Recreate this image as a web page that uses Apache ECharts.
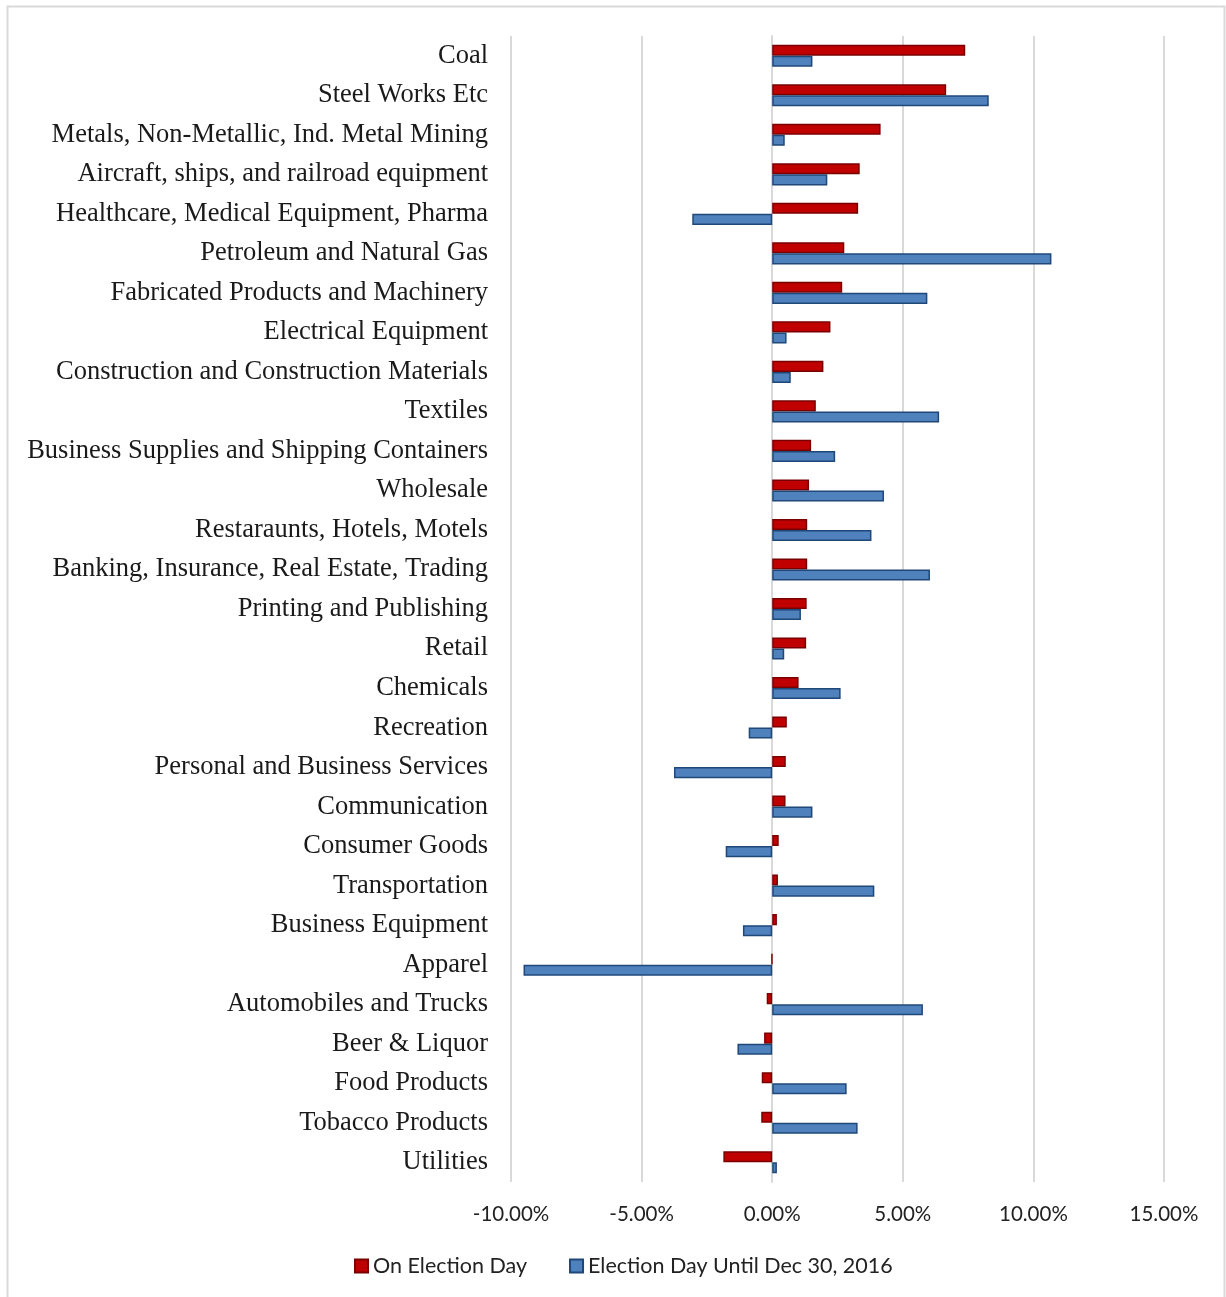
<!DOCTYPE html>
<html>
<head>
<meta charset="utf-8">
<script src="https://cdn.jsdelivr.net/npm/echarts@6/dist/echarts.min.js"></script>
<style>
html,body{margin:0;padding:0;background:#fff;}
#chart{width:1226px;height:1297px;}
</style>
</head>
<body>
<div id="chart"></div>
<script>
const categories = [
  "Coal","Steel Works Etc","Metals, Non-Metallic, Ind. Metal Mining","Aircraft, ships, and railroad equipment",
  "Healthcare, Medical Equipment, Pharma","Petroleum and Natural Gas","Fabricated Products and Machinery",
  "Electrical Equipment","Construction and Construction Materials","Textiles","Business Supplies and Shipping Containers",
  "Wholesale","Restaraunts, Hotels, Motels","Banking, Insurance, Real Estate, Trading","Printing and Publishing",
  "Retail","Chemicals","Recreation","Personal and Business Services","Communication","Consumer Goods",
  "Transportation","Business Equipment","Apparel","Automobiles and Trucks","Beer & Liquor","Food Products",
  "Tobacco Products","Utilities"
];
const onElectionDay = [
  7.39, 6.66, 4.15, 3.35, 3.29, 2.76, 2.68, 2.23, 1.96, 1.67, 1.49, 1.41, 1.34, 1.34, 1.32,
  1.30, 1.01, 0.56, 0.52, 0.51, 0.25, 0.22, 0.18, -0.02, -0.21, -0.31, -0.40, -0.42, -1.87
];
const untilDec30 = [
  1.54, 8.29, 0.48, 2.11, -3.06, 10.69, 5.94, 0.55, 0.71, 6.39, 2.41, 4.28, 3.80, 6.04, 1.10,
  0.46, 2.62, -0.90, -3.76, 1.54, -1.78, 3.91, -1.12, -9.52, 5.77, -1.33, 2.85, 3.27, 0.18
];
const seriesNames = ["On Election Day", "Election Day Until Dec 30, 2016"];
const xTicks = { min: -10, max: 15, interval: 5 };

const chart = echarts.init(document.getElementById('chart'), null, {renderer: 'canvas'});
chart.setOption({
  backgroundColor: '#ffffff',
  animation: false,
  graphic: [{
    type: 'rect', silent: true,
    shape: {x: 7.5, y: 6.5, width: 1217, height: 1300},
    style: {fill: 'none', stroke: '#d9d9d9', lineWidth: 2}
  }],
  grid: {left: 511, top: 36, width: 653, height: 1146, containLabel: false},
  legend: {
    data: seriesNames,
    bottom: 15,
    left: 349,
    itemWidth: 13, itemHeight: 13, itemGap: 42,
    icon: 'rect',
    textStyle: {fontFamily: 'Lato, "Open Sans", sans-serif', fontSize: 21.5, color: '#222', padding: [0,0,0,0]}
  },
  xAxis: {
    type: 'value',
    min: xTicks.min, max: xTicks.max, interval: xTicks.interval,
    axisLine: {show: false}, axisTick: {show: false},
    axisLabel: {
      formatter: v => v.toFixed(2) + '%',
      fontFamily: 'Lato, "Open Sans", sans-serif', fontSize: 20.5, color: '#222', margin: 22
    },
    splitLine: {show: true, lineStyle: {color: '#d9d9d9', width: 2}}
  },
  yAxis: {
    type: 'category', data: categories, inverse: true,
    axisLine: {show: true, onZero: true, lineStyle: {color: '#d9d9d9', width: 2}},
    axisTick: {show: false},
    axisLabel: {
      fontFamily: '"Liberation Serif", "Times New Roman", serif', fontSize: 26.5, color: '#1a1a1a', margin: 23
    }
  },
  series: [
    {
      name: seriesNames[0], type: 'bar', data: onElectionDay,
      barGap: '0%', barCategoryGap: '44%',
      itemStyle: {color: '#c00000', borderColor: '#7a0000', borderWidth: 1.5}
    },
    {
      name: seriesNames[1], type: 'bar', data: untilDec30,
      barGap: '0%', barCategoryGap: '44%',
      itemStyle: {color: '#4f81bd', borderColor: '#1f4878', borderWidth: 1.5}
    }
  ]
});
</script>
</body>
</html>
